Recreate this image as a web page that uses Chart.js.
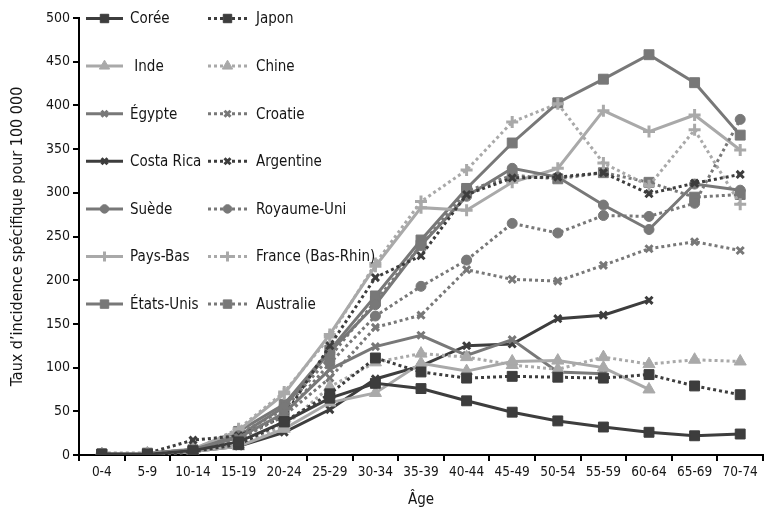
<!DOCTYPE html>
<html>
<head>
<meta charset="utf-8">
<script src="https://cdn.jsdelivr.net/npm/chart.js"></script>
<style>
html,body{margin:0;padding:0;overflow:hidden;background:#fff;}
#wrap{width:772px;height:509px;position:relative;}
</style>
</head>
<body>
<div id="wrap"><canvas id="c"></canvas></div>
<script>
const categories = ['0-4','5-9','10-14','15-19','20-24','25-29','30-34','35-39','40-44','45-49','50-54','55-59','60-64','65-69','70-74'];
const yTicks = [0,50,100,150,200,250,300,350,400,450,500];

const coree      = [1, 1, 5, 15, 38, 65, 82, 76, 62, 49, 39, 32, 26, 22, 24];
const japon      = [1, 1, 4, 12, 38, 70, 111, 95, 88, 90, 89, 88, 92, 79, 69];
const inde       = [1, 2, 4, 10, 30, 60, 71, 105, 96, 107, 108, 100, 75, null, null];
const chine      = [1, 1, 3, 12, 33, 78, 106, 116, 112, 103, 98, 112, 104, 109, 107];
const egypte     = [1, 2, 6, 20, 48, 98, 124, 137, 114, 132, 95, 93, null, null, null];
const croatie    = [1, 1, 5, 18, 45, 88, 146, 160, 212, 201, 199, 217, 236, 244, 234];
const costaRica  = [1, 1, 4, 10, 26, 52, 87, 102, 125, 127, 156, 160, 177, null, null];
const argentine  = [2, 2, 17, 22, 44, 125, 203, 228, 298, 317, 318, 323, 299, 311, 321];
const suede      = [1, 2, 6, 22, 55, 118, 172, 240, 296, 328, 318, 286, 258, 310, 303];
const royaumeUni = [1, 1, 5, 18, 45, 105, 159, 193, 223, 265, 254, 274, 273, 288, 384];
const paysBas    = [1, 2, 7, 28, 70, 138, 216, 283, 280, 312, 328, 394, 370, 389, 349];
const france     = [1, 2, 6, 30, 72, 135, 219, 290, 326, 381, 402, 334, 308, 372, 287];
const etatsUnis  = [1, 2, 6, 27, 58, 120, 182, 246, 305, 357, 403, 430, 458, 426, 366];
const australie  = [1, 2, 5, 24, 52, 112, 176, 240, 302, 320, 316, 323, 312, 295, 298];

const DARK = '#3d3d3d', MED = '#787878', LIGHT = '#a9a9a9';
const TEXT = '#151515';
const FONT = "'Liberation Sans Narrow', 'DejaVu Sans Condensed', 'Roboto', sans-serif";

function ds(label, data, color, dotted, style) {
  const isCross = style === 'cross' || style === 'crossRot';
  let r = 5;
  if (style === 'rect') r = 7;
  if (style === 'triangle') r = 7;
  if (style === 'circle') r = 5;
  if (style === 'cross') r = 6;
  if (style === 'crossRot') r = 5;
  return {
    label, data,
    borderColor: color,
    backgroundColor: color,
    borderWidth: 3,
    borderDash: dotted ? [3, 3] : [],
    borderCapStyle: 'butt',
    tension: 0,
    pointStyle: style,
    pointRadius: r,
    pointHoverRadius: r,
    pointBorderColor: color,
    pointBackgroundColor: color,
    pointBorderWidth: isCross ? 3 : 1,
    spanGaps: false,
    dotted
  };
}

const datasets = [
  ds('Corée', coree, DARK, false, 'rect'),
  ds('Japon', japon, DARK, true, 'rect'),
  ds(' Inde', inde, LIGHT, false, 'triangle'),
  ds('Chine', chine, LIGHT, true, 'triangle'),
  ds('Égypte', egypte, MED, false, 'crossRot'),
  ds('Croatie', croatie, MED, true, 'crossRot'),
  ds('Costa Rica', costaRica, DARK, false, 'crossRot'),
  ds('Argentine', argentine, DARK, true, 'crossRot'),
  ds('Suède', suede, MED, false, 'circle'),
  ds('Royaume-Uni', royaumeUni, MED, true, 'circle'),
  ds('Pays-Bas', paysBas, LIGHT, false, 'cross'),
  ds('France (Bas-Rhin)', france, LIGHT, true, 'cross'),
  ds('États-Unis', etatsUnis, MED, false, 'rect'),
  ds('Australie', australie, MED, true, 'rect')
];

const legendPlugin = {
  id: 'gridLegend',
  afterDatasetsDraw(chart) {
    const ctx = chart.ctx;
    const dsets = chart.data.datasets;
    ctx.save();
    for (let i = 0; i < dsets.length; i++) {
      const d = dsets[i];
      const col = i % 2, row = Math.floor(i / 2);
      const y = 18.5 + row * 47.6;
      const x0 = col === 0 ? 86 : 208;
      const x1 = col === 0 ? 123 : 247;
      const tx = col === 0 ? 130 : 256;
      ctx.strokeStyle = d.borderColor;
      ctx.lineWidth = 3;
      ctx.lineCap = 'butt';
      ctx.setLineDash(d.dotted ? [3, 3] : []);
      ctx.beginPath();
      ctx.moveTo(x0, y);
      ctx.lineTo(x1, y);
      ctx.stroke();
      ctx.setLineDash([]);
      ctx.fillStyle = d.pointBackgroundColor;
      ctx.strokeStyle = d.pointBorderColor;
      ctx.lineWidth = d.pointBorderWidth;
      Chart.helpers.drawPoint(ctx, {
        pointStyle: d.pointStyle,
        radius: d.pointRadius * 0.85,
        rotation: 0,
        borderWidth: d.pointBorderWidth
      }, (x0 + x1) / 2, y);
      ctx.fillStyle = TEXT;
      ctx.font = '15px ' + FONT;
      ctx.textBaseline = 'middle';
      ctx.textAlign = 'left';
      ctx.fillText(d.label, tx, y + 1);
    }
    ctx.restore();
  }
};

new Chart(document.getElementById('c'), {
  type: 'line',
  data: { labels: categories, datasets },
  plugins: [legendPlugin],
  options: {
    responsive: true,
    maintainAspectRatio: false,
    animation: false,
    devicePixelRatio: 1,
    layout: { padding: { top: 18, right: 0, bottom: 0, left: 0 } },
    plugins: { legend: { display: false }, tooltip: { enabled: false } },
    scales: {
      x: {
        type: 'category',
        offset: true,
        grid: { offset: true, drawOnChartArea: false, drawTicks: true, tickLength: 6, color: '#000', lineWidth: 2 },
        border: { display: true, color: '#000', width: 2 },
        ticks: { color: TEXT, font: { family: FONT, size: 13.5 }, padding: 3, maxRotation: 0, autoSkip: false },
        title: { display: true, text: 'Âge', color: TEXT, font: { family: FONT, size: 15 }, padding: { top: 6, bottom: 0 } },
        afterFit(scale) { scale.height = 54; }
      },
      y: {
        min: 0, max: 500,
        afterBuildTicks(scale) { scale.ticks = yTicks.map(v => ({ value: v })); },
        grid: { drawOnChartArea: false, drawTicks: true, tickLength: 6, color: '#000', lineWidth: 2 },
        border: { display: true, color: '#000', width: 2 },
        ticks: { color: TEXT, font: { family: FONT, size: 14 }, padding: 3 },
        title: { display: true, text: 'Taux d\u2019incidence spécifique pour 100 000', color: TEXT, font: { family: FONT, size: 16 }, padding: { top: 8, bottom: 4 } },
        afterFit(scale) { scale.width = 79; }
      }
    }
  }
});
</script>
</body>
</html>
